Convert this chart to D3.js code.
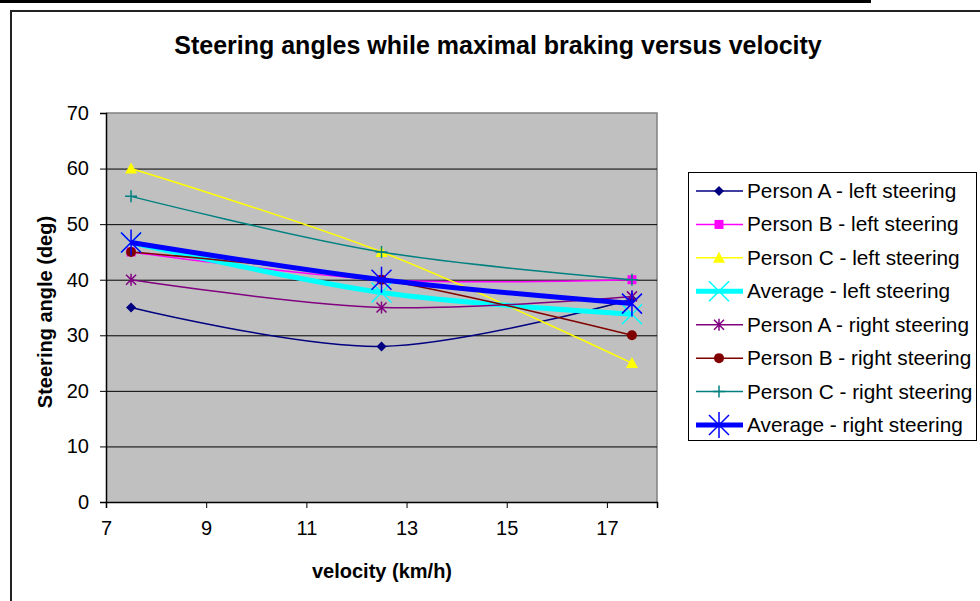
<!doctype html>
<html lang="en">
<head>
  <meta charset="UTF-8">
  <title>Steering angles</title>
  <script src="https://cdn.jsdelivr.net/npm/d3@7"></script>
  <style>
    body { margin: 0; background: #fff; }
    text { font-family: Arial, "Liberation Sans", sans-serif; fill: #000; }
  </style>
</head>
<body>
<svg width="980" height="601" id="chart"></svg>
<script>
  var velocity = [7.5, 12.5, 17.5];
  var xTicks = [7, 9, 11, 13, 15, 17];
  var yTicks = [0, 10, 20, 30, 40, 50, 60, 70];

  var personALeft = [35, 28, 36.5];
  var personBLeft = [45, 40, 40];
  var personCLeft = [60, 45, 25];
  var averageLeft = [46.7, 37.7, 33.8];
  var personARight = [40, 35, 37];
  var personBRight = [45, 40, 30];
  var personCRight = [55, 45, 40];
  var averageRight = [46.7, 40, 35.7];

  var seriesNames = [
    'Person A - left steering', 'Person B - left steering', 'Person C - left steering',
    'Average - left steering', 'Person A - right steering', 'Person B - right steering',
    'Person C - right steering', 'Average - right steering'
  ];

  var series = [
    {name: seriesNames[0], values: personALeft, color: '#000080', width: 1.5, marker: 'diamond'},
    {name: seriesNames[1], values: personBLeft, color: '#ff00ff', width: 1.5, marker: 'square'},
    {name: seriesNames[2], values: personCLeft, color: '#ffff00', width: 1.5, marker: 'triangle'},
    {name: seriesNames[3], values: averageLeft, color: '#00ffff', width: 5, marker: 'x'},
    {name: seriesNames[4], values: personARight, color: '#800080', width: 1.5, marker: 'star'},
    {name: seriesNames[5], values: personBRight, color: '#800000', width: 1.5, marker: 'circle'},
    {name: seriesNames[6], values: personCRight, color: '#008080', width: 1.5, marker: 'plus'},
    {name: seriesNames[7], values: averageRight, color: '#0000ff', width: 5, marker: 'bigstar'}
  ];

  var svg = d3.select('#chart');

  // page frame
  svg.append('rect').attr('x', 0).attr('y', 0).attr('width', 871).attr('height', 3).attr('fill', '#000');
  svg.append('path').attr('d', 'M11,601 V11 H980').attr('fill', 'none').attr('stroke', '#222').attr('stroke-width', 2);

  var plot = {left: 106, top: 113, right: 657, bottom: 502};
  var x = d3.scaleLinear().domain([7, 18]).range([plot.left, plot.right]);
  var y = d3.scaleLinear().domain([0, 70]).range([plot.bottom, plot.top]);

  svg.append('rect')
    .attr('x', plot.left).attr('y', plot.top)
    .attr('width', plot.right - plot.left).attr('height', plot.bottom - plot.top)
    .attr('fill', '#c0c0c0');
  svg.append('path')
    .attr('d', 'M' + plot.left + ',' + plot.top + 'H' + plot.right + 'V' + plot.bottom)
    .attr('fill', 'none').attr('stroke', '#808080').attr('stroke-width', 1.5);

  // gridlines
  svg.append('g').selectAll('line').data(yTicks.filter(function (d) { return d > 0 && d < 70; }))
    .enter().append('line')
    .attr('x1', plot.left).attr('x2', plot.right)
    .attr('y1', function (d) { return y(d) + 0.5; })
    .attr('y2', function (d) { return y(d) + 0.5; })
    .attr('stroke', '#000').attr('stroke-width', 1);

  svg.append('g')
    .attr('transform', 'translate(0,' + plot.bottom + ')')
    .call(d3.axisBottom(x).tickValues(xTicks).tickSize(6).tickPadding(13).tickFormat(d3.format('d')))
    .call(function (g) {
      g.select('.domain').attr('stroke', '#000').attr('stroke-width', 1.5);
      g.selectAll('.tick line').attr('stroke', '#000');
      g.selectAll('text').attr('font-size', 20).attr('font-family', 'Arial, "Liberation Sans", sans-serif');
    });

  svg.append('g')
    .attr('transform', 'translate(' + plot.left + ',0)')
    .call(d3.axisLeft(y).tickValues(yTicks).tickSize(6).tickPadding(11))
    .call(function (g) {
      g.select('.domain').attr('stroke', '#000').attr('stroke-width', 1.5);
      g.selectAll('.tick line').attr('stroke', '#000');
      g.selectAll('text').attr('font-size', 20).attr('font-family', 'Arial, "Liberation Sans", sans-serif');
    });

  function drawMarker(g, type, color) {
    if (type === 'diamond') {
      g.append('path').attr('d', 'M0,-5L5,0L0,5L-5,0Z').attr('fill', color);
    } else if (type === 'square') {
      g.append('rect').attr('x', -4.5).attr('y', -4.5).attr('width', 9).attr('height', 9).attr('fill', color);
    } else if (type === 'triangle') {
      g.append('path').attr('d', 'M0,-6L6,5L-6,5Z').attr('fill', color);
    } else if (type === 'circle') {
      g.append('circle').attr('r', 5).attr('fill', color);
    } else if (type === 'x') {
      g.append('path').attr('d', 'M-10,-10L10,10M-10,10L10,-10').attr('stroke', color).attr('stroke-width', 1.5);
    } else if (type === 'star') {
      g.append('path').attr('d', 'M-5,-5L5,5M-5,5L5,-5M0,-6V6').attr('stroke', color).attr('stroke-width', 1.5);
    } else if (type === 'plus') {
      g.append('path').attr('d', 'M-6,0H6M0,-6V6').attr('stroke', color).attr('stroke-width', 1.5);
    } else if (type === 'bigstar') {
      g.append('path').attr('d', 'M-10,-10L10,10M-10,10L10,-10M0,-13V13').attr('stroke', color).attr('stroke-width', 1.5);
    }
  }

  var line = d3.line()
    .x(function (d, i) { return x(velocity[i]); })
    .y(function (d) { return y(d); })
    .curve(d3.curveCatmullRom.alpha(0.5));

  series.forEach(function (s) {
    svg.append('path').datum(s.values)
      .attr('d', line)
      .attr('fill', 'none')
      .attr('stroke', s.color)
      .attr('stroke-width', s.width);
    s.values.forEach(function (v, i) {
      var m = svg.append('g').attr('transform', 'translate(' + x(velocity[i]) + ',' + y(v) + ')');
      drawMarker(m, s.marker, s.color);
    });
  });

  // legend
  var legend = svg.append('g');
  legend.append('rect')
    .attr('x', 688.5).attr('y', 172.5).attr('width', 288).attr('height', 268)
    .attr('fill', '#fff').attr('stroke', '#000').attr('stroke-width', 1);
  var legendY = d3.scaleLinear().domain([0, 7]).range([191, 425]);
  series.forEach(function (s, i) {
    var row = legend.append('g').attr('transform', 'translate(0,' + legendY(i) + ')');
    row.append('line').attr('x1', 696).attr('x2', 743).attr('y1', 0).attr('y2', 0)
      .attr('stroke', s.color).attr('stroke-width', s.width);
    drawMarker(row.append('g').attr('transform', 'translate(719,0)'), s.marker, s.color);
    row.append('text').attr('x', 747).attr('y', 7).attr('font-size', 20.8).text(s.name);
  });

  // titles
  svg.append('text').attr('x', 498).attr('y', 54).attr('text-anchor', 'middle')
    .attr('font-size', 25).attr('font-weight', 'bold')
    .text('Steering angles while maximal braking versus velocity');
  svg.append('text').attr('x', 382).attr('y', 578).attr('text-anchor', 'middle')
    .attr('font-size', 20).attr('font-weight', 'bold')
    .text('velocity (km/h)');
  svg.append('text').attr('transform', 'translate(52,312) rotate(-90)').attr('text-anchor', 'middle')
    .attr('font-size', 20).attr('font-weight', 'bold')
    .text('Steering angle (deg)');
</script>
</body>
</html>
